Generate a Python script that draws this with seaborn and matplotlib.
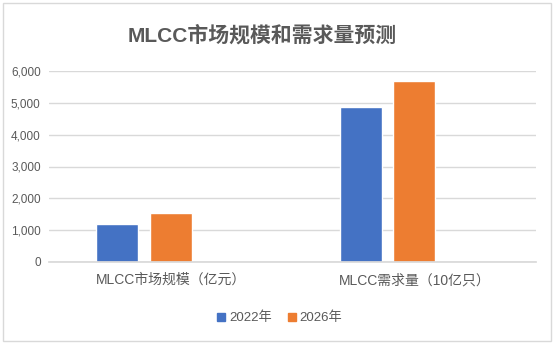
import matplotlib
matplotlib.use("Agg")
import matplotlib.pyplot as plt
import matplotlib.patches as mpatches
from matplotlib.ticker import FuncFormatter
import seaborn as sns
import pandas as pd

categories = ["MLCC市场规模（亿元）", "MLCC需求量（10亿只）"]
years = ["2022年", "2026年"]
values_2022 = [1180, 4870]
values_2026 = [1530, 5680]
yticks = [0, 1000, 2000, 3000, 4000, 5000, 6000]

df = pd.DataFrame({
    "category": categories * 2,
    "year": [years[0]] * 2 + [years[1]] * 2,
    "value": values_2022 + values_2026,
})

sns.set_theme(style="white")
plt.rcParams["font.family"] = ["Liberation Sans", "Noto Sans CJK SC", "DejaVu Sans"]

fig = plt.figure(figsize=(5.54, 3.45), dpi=100)
ax = fig.add_axes([49 / 554, 1 - 262 / 345, (536 - 49) / 554, (262 - 71) / 345])

hue_order = years + [" "]
palette = {"2022年": "#4472C4", "2026年": "#ED7D31", " ": "#FFFFFF"}
sns.barplot(data=df, x="category", y="value", hue="year", order=categories,
            hue_order=hue_order, palette=palette, width=0.66, gap=0.21,
            errorbar=None, legend=False, ax=ax, saturation=1)

ax.set_ylim(0, 6000)
ax.set_yticks(yticks)
ax.yaxis.set_major_formatter(FuncFormatter(lambda v, p: f"{int(v):,}"))
ax.set_xlim(-0.5, 1.5)
ax.grid(axis="y", color="#D9D9D9", linewidth=1)
ax.set_axisbelow(True)
for s in ["top", "right", "left"]:
    ax.spines[s].set_visible(False)
ax.spines["bottom"].set_color("#D9D9D9")
ax.tick_params(axis="both", length=0, colors="#595959")
ax.tick_params(axis="y", labelsize=8.5, pad=6)
ax.tick_params(axis="x", labelsize=10, pad=8)
ax.set_xlabel("")
ax.set_ylabel("")

handles = [mpatches.Patch(color=palette[y], label=y) for y in years]
fig.legend(handles=handles, loc="center", bbox_to_anchor=(0.505, 0.078), ncol=2,
           frameon=False, fontsize=9.5, handlelength=0.6, handleheight=0.6,
           handletextpad=0.3, columnspacing=1.2, labelcolor="#595959")

fig.text(0.474, 1 - 35 / 345, "MLCC市场规模和需求量预测", ha="center", va="center",
         fontsize=15, fontweight="bold", color="#595959")

fig.patches.append(mpatches.Rectangle((0.006, 0.012), 0.988, 0.978, transform=fig.transFigure,
                                      fill=False, edgecolor="#D9D9D9", linewidth=1))

fig.savefig("out.png", dpi=100)
